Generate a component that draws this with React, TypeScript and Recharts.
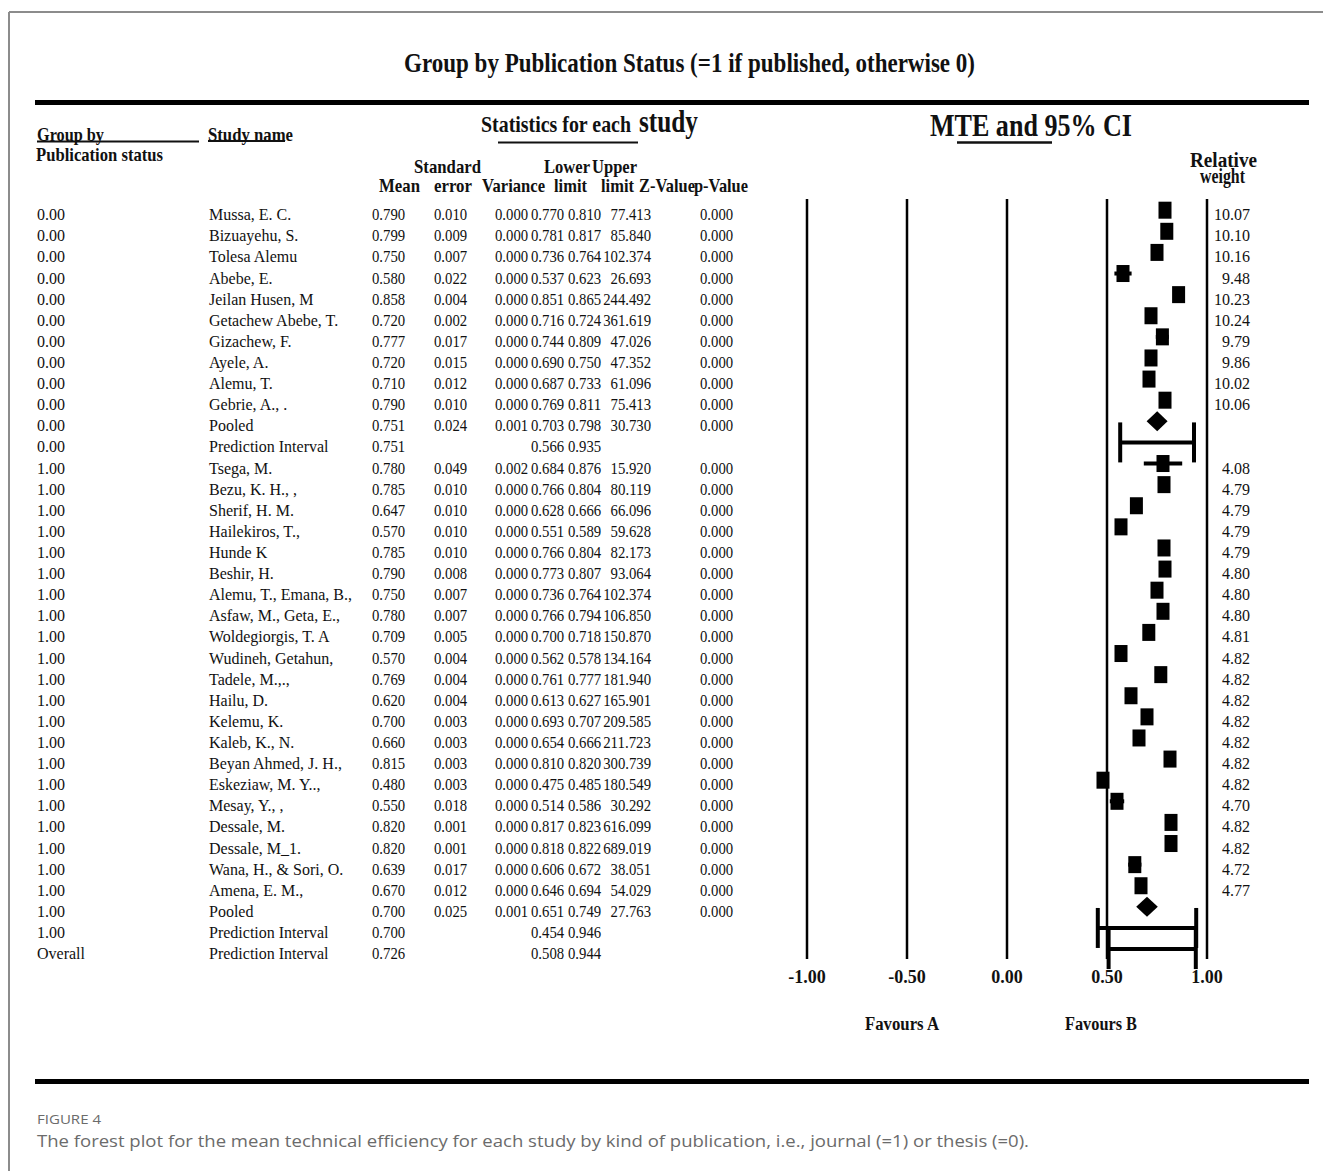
import * as Recharts from "recharts";
import { ScatterChart, Scatter, XAxis, YAxis, ReferenceLine, ErrorBar } from "recharts";

// table rows, top to bottom
const groupLabels = [
  "0.00", "0.00", "0.00", "0.00", "0.00", "0.00", "0.00", "0.00", "0.00", "0.00", "0.00", "0.00",
  "1.00", "1.00", "1.00", "1.00", "1.00", "1.00", "1.00", "1.00", "1.00", "1.00", "1.00", "1.00",
  "1.00", "1.00", "1.00", "1.00", "1.00", "1.00", "1.00", "1.00", "1.00", "1.00", "1.00", "Overall",
];

const studyNames = [
  "Mussa, E. C.", "Bizuayehu, S.", "Tolesa Alemu", "Abebe, E.", "Jeilan Husen, M",
  "Getachew Abebe, T.", "Gizachew, F.", "Ayele, A.", "Alemu, T.", "Gebrie, A., .",
  "Pooled", "Prediction Interval",
  "Tsega, M.", "Bezu, K. H., ,", "Sherif, H. M.", "Hailekiros, T.,", "Hunde K", "Beshir, H.",
  "Alemu, T., Emana, B.,", "Asfaw, M., Geta, E.,", "Woldegiorgis, T. A", "Wudineh, Getahun,",
  "Tadele, M.,.,", "Hailu, D.", "Kelemu, K.", "Kaleb, K., N.", "Beyan Ahmed, J. H.,",
  "Eskeziaw, M. Y..,", "Mesay, Y., ,", "Dessale, M.", "Dessale, M_1.", "Wana, H., & Sori, O.",
  "Amena, E. M.,", "Pooled", "Prediction Interval", "Prediction Interval",
];

// study | pooled | pi
const rowKinds = [
  "study", "study", "study", "study", "study", "study", "study", "study", "study", "study",
  "pooled", "pi",
  "study", "study", "study", "study", "study", "study", "study", "study", "study", "study",
  "study", "study", "study", "study", "study", "study", "study", "study", "study", "study",
  "study", "pooled", "pi", "pi",
];

const means = [
  0.790, 0.799, 0.750, 0.580, 0.858, 0.720, 0.777, 0.720, 0.710, 0.790, 0.751, 0.751,
  0.780, 0.785, 0.647, 0.570, 0.785, 0.790, 0.750, 0.780, 0.709, 0.570, 0.769, 0.620,
  0.700, 0.660, 0.815, 0.480, 0.550, 0.820, 0.820, 0.639, 0.670, 0.700, 0.700, 0.726,
];

const stdErrors = [
  0.010, 0.009, 0.007, 0.022, 0.004, 0.002, 0.017, 0.015, 0.012, 0.010, 0.024, null,
  0.049, 0.010, 0.010, 0.010, 0.010, 0.008, 0.007, 0.007, 0.005, 0.004, 0.004, 0.004,
  0.003, 0.003, 0.003, 0.003, 0.018, 0.001, 0.001, 0.017, 0.012, 0.025, null, null,
];

const variances = [
  0.000, 0.000, 0.000, 0.000, 0.000, 0.000, 0.000, 0.000, 0.000, 0.000, 0.001, null,
  0.002, 0.000, 0.000, 0.000, 0.000, 0.000, 0.000, 0.000, 0.000, 0.000, 0.000, 0.000,
  0.000, 0.000, 0.000, 0.000, 0.000, 0.000, 0.000, 0.000, 0.000, 0.001, null, null,
];

const lowerLimits = [
  0.770, 0.781, 0.736, 0.537, 0.851, 0.716, 0.744, 0.690, 0.687, 0.769, 0.703, 0.566,
  0.684, 0.766, 0.628, 0.551, 0.766, 0.773, 0.736, 0.766, 0.700, 0.562, 0.761, 0.613,
  0.693, 0.654, 0.810, 0.475, 0.514, 0.817, 0.818, 0.606, 0.646, 0.651, 0.454, 0.508,
];

const upperLimits = [
  0.810, 0.817, 0.764, 0.623, 0.865, 0.724, 0.809, 0.750, 0.733, 0.811, 0.798, 0.935,
  0.876, 0.804, 0.666, 0.589, 0.804, 0.807, 0.764, 0.794, 0.718, 0.578, 0.777, 0.627,
  0.707, 0.666, 0.820, 0.485, 0.586, 0.823, 0.822, 0.672, 0.694, 0.749, 0.946, 0.944,
];

const zValues = [
  77.413, 85.84, 102.374, 26.693, 244.492, 361.619, 47.026, 47.352, 61.096, 75.413, 30.73, null,
  15.92, 80.119, 66.096, 59.628, 82.173, 93.064, 102.374, 106.85, 150.87, 134.164, 181.94, 165.901,
  209.585, 211.723, 300.739, 180.549, 30.292, 616.099, 689.019, 38.051, 54.029, 27.763, null, null,
];

const pValues = [
  0, 0, 0, 0, 0, 0, 0, 0, 0, 0, 0, null,
  0, 0, 0, 0, 0, 0, 0, 0, 0, 0, 0, 0,
  0, 0, 0, 0, 0, 0, 0, 0, 0, 0, null, null,
];

const relativeWeights = [
  "10.07", "10.10", "10.16", "9.48", "10.23", "10.24", "9.79", "9.86", "10.02", "10.06", "", "",
  "4.08", "4.79", "4.79", "4.79", "4.79", "4.80", "4.80", "4.80", "4.81", "4.82", "4.82", "4.82",
  "4.82", "4.82", "4.82", "4.82", "4.70", "4.82", "4.82", "4.72", "4.77", "", "", "",
];

const xTicks = [-1, -0.5, 0, 0.5, 1];

const X_DOMAIN = [-1, 1];
const ROW_DOMAIN = [-0.53, 35.47];

const rows = studyNames.map((name, i) => ({
  row: i,
  name,
  mean: means[i],
  err: [means[i] - lowerLimits[i], upperLimits[i] - means[i]],
  kind: rowKinds[i],
}));
const studyRows = rows.filter((r) => r.kind === "study");
const pooledRows = rows.filter((r) => r.kind === "pooled");
const piRows = rows.filter((r) => r.kind === "pi");
const rowTicks = rows.map((r) => r.row);

const SERIF = "'Liberation Serif', 'Times New Roman', serif";
const fmt = (v: number | null) => (v === null || v === undefined ? "" : v.toFixed(3));

// text columns of the left table
const COL = { group: 37, study: 209, mean: 372, se: 434, variance: 495, lower: 531, upper: 568, zRight: 651, p: 700 };

// the numbers in the reference are set a little narrower than the names
const NUM_SQUEEZE = 0.92;
const numWidth = (s: string) => {
  let w = 0;
  for (const ch of s) w += ch === "." ? 4 : 8;
  return w * NUM_SQUEEZE;
};

const R: any = Recharts;
const usePlotAreaSafe: () => any = R.usePlotArea || (() => null);

function Num({ x, y, value, anchor }: { x: number; y: number; value: string; anchor?: "end" }) {
  if (!value) return null;
  return (
    <text
      x={x}
      y={y}
      textAnchor={anchor || "start"}
      fontFamily={SERIF}
      fontSize={16}
      fill="#111"
      textLength={numWidth(value)}
      lengthAdjust="spacingAndGlyphs"
    >
      {value}
    </text>
  );
}

function TableRowTick(props: any) {
  const i = props.payload.value;
  const y = props.y + 10;
  const t = { fontFamily: SERIF, fontSize: 16, fill: "#111" };
  return (
    <g>
      <text x={COL.group} y={y} {...t}>{groupLabels[i]}</text>
      <text x={COL.study} y={y} {...t}>{studyNames[i]}</text>
      <Num x={COL.mean} y={y} value={fmt(means[i])} />
      <Num x={COL.se} y={y} value={fmt(stdErrors[i])} />
      <Num x={COL.variance} y={y} value={fmt(variances[i])} />
      <Num x={COL.lower} y={y} value={fmt(lowerLimits[i])} />
      <Num x={COL.upper} y={y} value={fmt(upperLimits[i])} />
      <Num x={COL.zRight} y={y} value={fmt(zValues[i])} anchor="end" />
      <Num x={COL.p} y={y} value={fmt(pValues[i])} />
    </g>
  );
}

function WeightTick(props: any) {
  const i = props.payload.value;
  return (
    <text x={1250} y={props.y + 10} textAnchor="end" fontFamily={SERIF} fontSize={16} fill="#111">
      {relativeWeights[i]}
    </text>
  );
}

function XTick(props: any) {
  return (
    <text x={props.x} y={props.y + 24} textAnchor="middle" fontFamily={SERIF} fontWeight="bold" fontSize={18} fill="#111">
      {Number(props.payload.value).toFixed(2)}
    </text>
  );
}

const Square = (p: any) => <rect x={p.cx - 6.5} y={p.cy - 8.5} width={13} height={17} fill="#000" />;

function Diamond(p: any) {
  const area = usePlotAreaSafe();
  const w = area && area.width ? area.width : 400;
  const k = w / (X_DOMAIN[1] - X_DOMAIN[0]);
  const lo = p.cx - p.payload.err[0] * k - 1;
  const hi = p.cx + p.payload.err[1] * k + 1;
  return (
    <polygon
      points={`${lo},${p.cy} ${p.cx},${p.cy - 10} ${hi},${p.cy} ${p.cx},${p.cy + 10}`}
      fill="#000"
    />
  );
}

function Overlay() {
  const b = { fontFamily: SERIF, fontWeight: "bold" as const, fill: "#111", lengthAdjust: "spacingAndGlyphs" };
  return (
    <svg width={1323} height={1171} style={{ position: "absolute", left: 0, top: 0, pointerEvents: "none" }}>
      {/* figure frame */}
      <line x1={9} y1={12} x2={1323} y2={12} stroke="#8c8c8c" strokeWidth={2} />
      <line x1={9} y1={12} x2={9} y2={1171} stroke="#8c8c8c" strokeWidth={2} />
      <line x1={35} y1={102.5} x2={1309} y2={102.5} stroke="#000" strokeWidth={5} />
      <line x1={35} y1={1081.5} x2={1309} y2={1081.5} stroke="#000" strokeWidth={5} />

      <text x={404} y={72} fontSize={28} textLength={571} {...b}>
        Group by Publication Status (=1 if published, otherwise 0)
      </text>

      <text x={37} y={141} fontSize={19} textLength={67} {...b}>Group by</text>
      <line x1={37} y1={141.5} x2={199} y2={141.5} stroke="#111" strokeWidth={2} />
      <text x={36} y={161} fontSize={19} textLength={127} {...b}>Publication status</text>
      <text x={208} y={141} fontSize={19} textLength={85} {...b}>Study name</text>
      <line x1={208} y1={141} x2={285} y2={141} stroke="#111" strokeWidth={2} />

      <text x={481} y={132} fontSize={24} textLength={150} {...b}>Statistics for each</text>
      <text x={639} y={132} fontSize={32} textLength={59} {...b}>study</text>
      <line x1={498} y1={142.5} x2={638} y2={142.5} stroke="#111" strokeWidth={2} />

      <text x={414} y={173} fontSize={19} textLength={67} {...b}>Standard</text>
      <text x={544} y={173} fontSize={19} textLength={46} {...b}>Lower</text>
      <text x={592} y={173} fontSize={19} textLength={45} {...b}>Upper</text>
      <text x={379} y={192} fontSize={19} textLength={41} {...b}>Mean</text>
      <text x={434} y={192} fontSize={19} textLength={38} {...b}>error</text>
      <text x={482} y={192} fontSize={19} textLength={63} {...b}>Variance</text>
      <text x={554} y={192} fontSize={19} textLength={33} {...b}>limit</text>
      <text x={601} y={192} fontSize={19} textLength={33} {...b}>limit</text>
      <text x={639} y={192} fontSize={19} textLength={56} {...b}>Z-Value</text>
      <text x={694} y={192} fontSize={19} textLength={54} {...b}>p-Value</text>

      <text x={930} y={136} fontSize={32} textLength={202} {...b}>MTE and 95% CI</text>
      <line x1={957} y1={142.5} x2={1052} y2={142.5} stroke="#111" strokeWidth={2.5} />
      <text x={1190} y={167} fontSize={20} textLength={67} {...b}>Relative</text>
      <text x={1200} y={183} fontSize={20} textLength={45} {...b}>weight</text>

      <text x={865} y={1030} fontSize={18} textLength={74} {...b}>Favours A</text>
      <text x={1065} y={1030} fontSize={18} textLength={72} {...b}>Favours B</text>

      <text x={37} y={1124} fontFamily="'Open Sans', sans-serif" fontSize={13} fill="#6b6b6b" textLength={64} lengthAdjust="spacingAndGlyphs">
        FIGURE 4
      </text>
      <text x={37} y={1147} fontFamily="'Open Sans', sans-serif" fontSize={16} fill="#6b6b6b" textLength={992} lengthAdjust="spacingAndGlyphs">
        The forest plot for the mean technical efficiency for each study by kind of publication, i.e., journal (=1) or thesis (=0).
      </text>
    </svg>
  );
}

export default function App() {
  return (
    <div style={{ position: "absolute", left: 0, top: 0, width: 1323, height: 1171, background: "#fff" }}>
      <ScatterChart width={1323} height={1171} margin={{ top: 199, right: 56, bottom: 172, left: 787 }}>
        <XAxis
          type="number"
          dataKey="mean"
          domain={X_DOMAIN}
          ticks={xTicks}
          allowDataOverflow
          axisLine={false}
          tickLine={false}
          tickSize={0}
          tickMargin={0}
          height={40}
          interval={0}
          tick={<XTick />}
        />
        <YAxis
          yAxisId="left"
          type="number"
          dataKey="row"
          domain={ROW_DOMAIN}
          reversed
          allowDataOverflow
          ticks={rowTicks}
          interval={0}
          width={20}
          axisLine={false}
          tickLine={false}
          tickSize={0}
          tickMargin={0}
          tick={<TableRowTick />}
        />
        <YAxis
          yAxisId="right"
          orientation="right"
          type="number"
          dataKey="row"
          domain={ROW_DOMAIN}
          reversed
          allowDataOverflow
          ticks={rowTicks}
          interval={0}
          width={60}
          axisLine={false}
          tickLine={false}
          tickSize={0}
          tickMargin={0}
          tick={<WeightTick />}
        />
        {xTicks.map((v) => (
          <ReferenceLine key={v} yAxisId="left" x={v} stroke="#000" strokeWidth={2.5} />
        ))}
        <Scatter yAxisId="left" data={studyRows} shape={Square} isAnimationActive={false}>
          <ErrorBar dataKey="err" direction="x" width={0} strokeWidth={4} stroke="#000" />
        </Scatter>
        <Scatter yAxisId="left" data={pooledRows} shape={(p: any) => <Diamond {...p} />} isAnimationActive={false} />
        <Scatter yAxisId="left" data={piRows} shape={() => <g />} isAnimationActive={false}>
          <ErrorBar dataKey="err" direction="x" width={20} strokeWidth={4} stroke="#000" />
        </Scatter>
        <Scatter yAxisId="right" data={rows} shape={() => <g />} isAnimationActive={false} />
      </ScatterChart>
      <Overlay />
    </div>
  );
}
